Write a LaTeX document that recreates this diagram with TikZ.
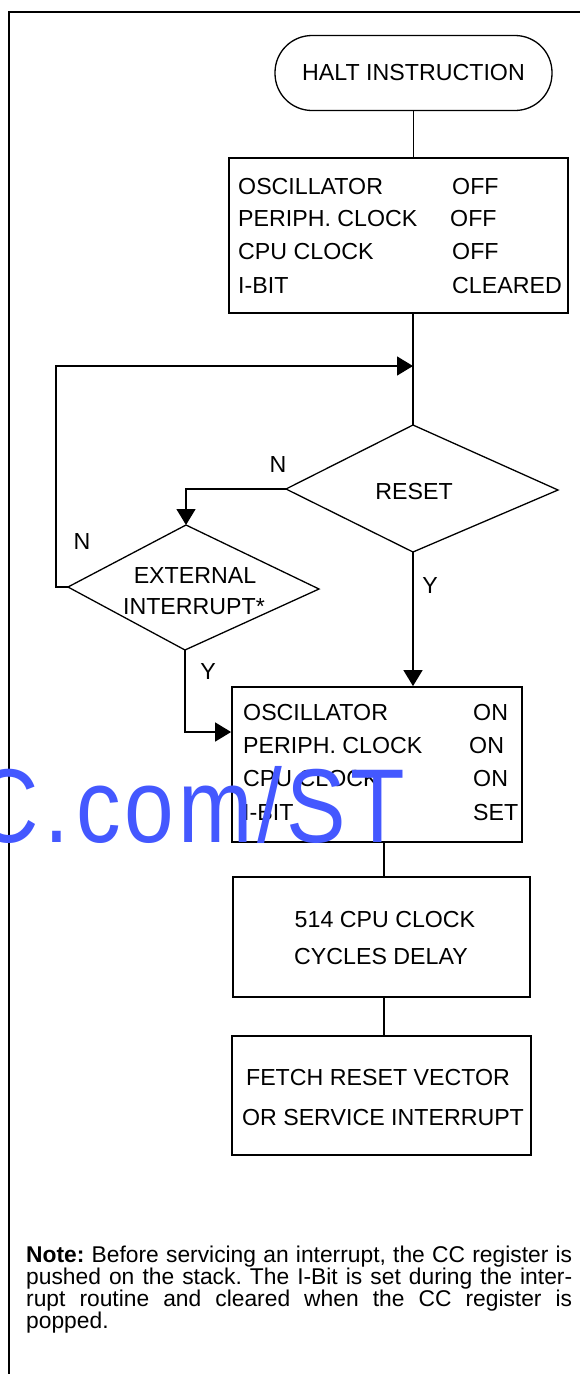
\documentclass[tikz,border=0pt]{standalone}
\usepackage{fontspec}
\setmainfont{Liberation Sans}
\usetikzlibrary{arrows.meta,shapes.geometric}
\definecolor{wmblue}{RGB}{68,88,255}
\begin{document}
\begin{tikzpicture}[x=1pt,y=-1pt,
  txt/.style={inner sep=0pt, font=\fontsize{23.2}{27}\selectfont},
  boxst/.style={draw, line width=1.8pt, inner sep=0pt},
  dia/.style={line width=1.3pt, line join=miter},
  conn/.style={line width=1.5pt},
  arr/.style={conn, -{Triangle[width=19pt,length=16pt]}},
]
\useasboundingbox (0,0) rectangle (579,1374);
% frame
\draw[line width=2pt] (9,1380) -- (9,12) -- (585,12);

% terminal
\node[draw, line width=1.3pt, rounded corners=37pt, minimum width=277pt, minimum height=75pt, txt] (term) at (413.5,73) {HALT INSTRUCTION};

% box 1
\node[boxst, minimum width=339pt, minimum height=155pt] (b1) at (398.5,235.5) {};
\node[txt, anchor=west] (b1a) at (238,187) {OSCILLATOR};
\node[txt, anchor=west] (b1b) at (238,219) {PERIPH. CLOCK};
\node[txt, anchor=west] (b1c) at (238,252) {CPU CLOCK};
\node[txt, anchor=west] (b1d) at (238,286) {I-BIT};
\node[txt, anchor=west] (b1e) at (452,187) {OFF};
\node[txt, anchor=west] (b1f) at (450,219) {OFF};
\node[txt, anchor=west] (b1g) at (452,252) {OFF};
\node[txt, anchor=west] (b1h) at (452,286) {CLEARED};

% reset diamond
\coordinate (rT) at (413,425);
\coordinate (rR) at (558,490);
\coordinate (rB) at (413,552);
\coordinate (rL) at (286,489);
\draw[dia] (rT) -- (rR) -- (rB) -- (rL) -- cycle;
\node[txt] (reset) at (414,492) {RESET};

% external interrupt diamond
\coordinate (eT) at (186,525);
\coordinate (eR) at (319,589);
\coordinate (eB) at (185,650);
\coordinate (eL) at (68,587);
\draw[dia] (eT) -- (eR) -- (eB) -- (eL) -- cycle;
\node[txt] (ext1) at (195,576) {EXTERNAL};
\node[txt] (ext2) at (194,607) {INTERRUPT*};

% box 2
\node[boxst, minimum width=290pt, minimum height=155pt] (b2) at (377,764.5) {};
\node[txt, anchor=west] (b2a) at (243,713) {OSCILLATOR};
\node[txt, anchor=west] (b2b) at (243,746) {PERIPH. CLOCK};
\node[txt, anchor=west] (b2c) at (243,779) {CPU CLOCK};
\node[txt, anchor=west] (b2d) at (243,813) {I-BIT};
\node[txt, anchor=west] (b2e) at (473,713) {ON};
\node[txt, anchor=west] (b2f) at (469,746) {ON};
\node[txt, anchor=west] (b2g) at (473,779) {ON};
\node[txt, anchor=west] (b2h) at (473,813) {SET};

% box 3
\node[boxst, minimum width=297pt, minimum height=120pt] (b3) at (381.5,937) {};
\node[txt] (b3a) at (385,920) {514 CPU CLOCK};
\node[txt] (b3b) at (381,957) {CYCLES DELAY};

% box 4
\node[boxst, minimum width=299pt, minimum height=119pt] (b4) at (381.5,1095.5) {};
\node[txt] (b4a) at (378,1077) {FETCH RESET VECTOR};
\node[txt] (b4b) at (383,1117) {OR SERVICE INTERRUPT};

% connectors
\coordinate (join) at (413,366);
\coordinate (mid) at (384,900);
\coordinate (b2in) at ([yshift=32.5pt]b2.west);
\draw[conn] (term.south) -- (term.south |- b1.north);
\draw[conn] (b1.south -| rT) -- (rT);
\draw[arr] (eL) -- ++(-12,0) |- (join);
\draw[arr] (rL) -| (eT);
\draw[arr] (rB) -- (rB |- b2.north);
\draw[arr] (eB) |- (b2in);
\draw[conn] (b2.south -| mid) -- (b3.north -| mid);
\draw[conn] (b3.south -| mid) -- (b4.north -| mid);

% labels
\node[txt] (nr) at (278,465) {N};
\node[txt] (ne) at (82,542) {N};
\node[txt] (yr) at (430,586) {Y};
\node[txt] (ye) at (208,672) {Y};

% note
\node[anchor=base west, inner sep=0pt, text width=546pt, align=justify,
      font=\fontsize{22.8}{20.5}\selectfont] (note) at (26,1262)
  {\frenchspacing\tolerance=10000\hbadness=10000\hyphenpenalty=10000 \textbf{Note:} Before servicing an interrupt, the CC register is\linebreak pushed on the stack. The I-Bit is set during the inter-\linebreak rupt routine and cleared when the CC register is\linebreak popped.};

% watermark
\node[anchor=base east, inner sep=0pt, text=wmblue, font=\fontsize{105}{105}\selectfont] (wm) at (405,842)
  {\scalebox{0.85}[1]{C\hspace{6pt}.\hspace{8pt}c\hspace{5pt}o\hspace{5pt}m\hspace{5pt}/\hspace{5pt}S\hspace{5pt}T}};
\end{tikzpicture}
\end{document}
